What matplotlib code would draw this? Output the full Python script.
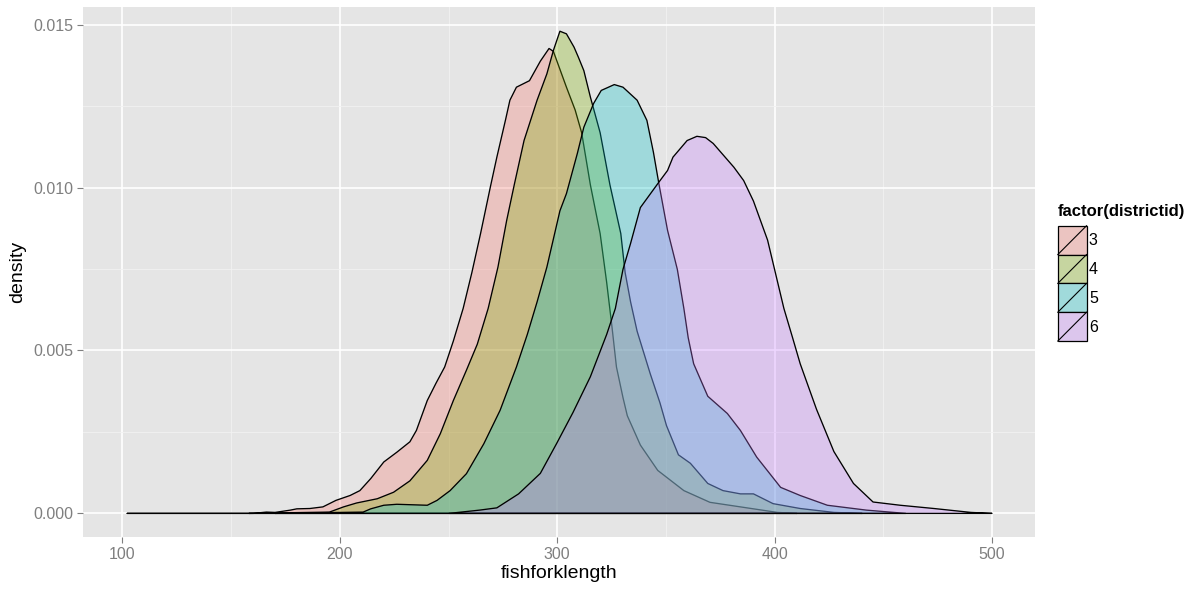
import numpy as np
import matplotlib
matplotlib.use("Agg")
import matplotlib.pyplot as plt
from matplotlib.colors import to_rgba
from matplotlib.patches import Patch, Rectangle
from matplotlib.lines import Line2D
from matplotlib.legend_handler import HandlerBase
from matplotlib.ticker import MultipleLocator

plt.rcParams['font.family'] = ['Liberation Sans', 'DejaVu Sans']

# ---------------------------
# 데이터 (그림에서 읽은 밀도 곡선)
# ---------------------------
groups = ["3", "4", "5", "6"]
colors = ["#F8766D", "#7CAE00", "#00BFC4", "#C77CFF"]

x3 = [102, 160, 166, 170, 177, 180, 186, 192, 198, 204.5, 209, 214, 220, 226, 232, 235,
      240, 244, 248, 252, 256.5, 260.5, 264.5, 269, 272, 276, 278, 281, 287, 292, 296,
      298, 304, 308, 311, 315, 319.5, 322.5, 325, 327, 330, 332, 338, 346, 358, 370,
      389, 401, 410]
y3 = [0, 0, 0.00004, 0.00003, 0.0001, 0.00014, 0.00015, 0.0002, 0.0004, 0.00055, 0.0007,
      0.00107, 0.00158, 0.00188, 0.0022, 0.00255, 0.00347, 0.0040, 0.0045, 0.0053, 0.0063,
      0.0074, 0.0086, 0.01003, 0.01095, 0.0121, 0.0127, 0.0131, 0.0133, 0.0139, 0.01429,
      0.0142, 0.0131, 0.0124, 0.0117, 0.0101, 0.0086, 0.0071, 0.0057, 0.0045, 0.00356,
      0.0030, 0.0021, 0.00132, 0.0007, 0.00034, 0.00015, 0.00003, 0]

x4 = [158, 195, 201.5, 207.5, 217, 224.5, 232, 240, 246, 252, 258, 263, 268, 272.5, 276.5,
      280, 284.5, 290.5, 295, 298, 301, 304, 307.5, 309.5, 312, 315, 319.5, 324, 329, 331,
      333.5, 336.5, 342.5, 347, 350, 355.5, 361, 369, 376, 384, 390, 399, 411.5, 427, 440]
y4 = [0, 0.00004, 0.0002, 0.00032, 0.00045, 0.00065, 0.001, 0.00163, 0.00245, 0.00347,
      0.0044, 0.0052, 0.0063, 0.00757, 0.009, 0.0101, 0.01146, 0.0127, 0.01351, 0.01423,
      0.01482, 0.01474, 0.01433, 0.01402, 0.01361, 0.0128, 0.0117, 0.0101, 0.0086, 0.0074,
      0.0065, 0.0056, 0.0043, 0.0034, 0.0027, 0.0018, 0.00154, 0.00092, 0.0007, 0.0006,
      0.0006, 0.0003, 0.00015, 0.00003, 0]

x5 = [170, 210.5, 214, 220, 226, 240, 244.5, 250.5, 258, 266, 273.5, 281, 286, 290.5, 295,
      301, 304, 309, 312, 316.5, 320, 326, 330, 336.5, 341, 344, 346.5, 350.5, 355, 358,
      360, 362.5, 369, 378, 384, 391.5, 402.5, 411.5, 424, 442, 460]
y5 = [0, 0.00004, 0.00014, 0.00025, 0.00028, 0.00025, 0.0004, 0.0007, 0.00122, 0.00214,
      0.00317, 0.0045, 0.0055, 0.0065, 0.00757, 0.0093, 0.00983, 0.01106, 0.01187, 0.0126,
      0.0130, 0.01318, 0.0131, 0.0127, 0.01208, 0.0111, 0.01014, 0.0087, 0.0075, 0.0063,
      0.0054, 0.0046, 0.0036, 0.00307, 0.00255, 0.00173, 0.0008, 0.00055, 0.00025, 0.0001, 0]

x6 = [250, 264, 272, 282, 292, 299.5, 307, 315, 322.5, 326.5, 330, 333.5, 338, 346.5, 350.5,
      353, 359.5, 364, 368, 371.5, 381, 385.5, 390, 396.5, 399, 404, 408, 411.5, 419, 427,
      436, 445, 457.5, 473, 490, 499.7]
y6 = [0, 0.0001, 0.00017, 0.0006, 0.00123, 0.00215, 0.0031, 0.0042, 0.0055, 0.0063, 0.0075,
      0.0083, 0.0094, 0.01018, 0.01054, 0.01095, 0.01146, 0.01159, 0.01155, 0.01137, 0.01064,
      0.01023, 0.0096, 0.0084, 0.0077, 0.0063, 0.0054, 0.0046, 0.0032, 0.0019, 0.00092,
      0.00035, 0.00025, 0.00015, 0.00003, 0]

xs = [x3, x4, x5, x6]
ys = [y3, y4, y5, y6]

x_ticks = [100, 200, 300, 400, 500]
y_ticks = [0.000, 0.005, 0.010, 0.015]

# ---------------------------
# 그림 설정 (ggplot2 theme_grey 스타일)
# ---------------------------
fig = plt.figure(figsize=(11.94, 5.96), dpi=100)
ax = fig.add_axes([0.0699, 0.099, 0.8666 - 0.0699, 0.9889 - 0.099])
ax.set_facecolor("#E5E5E5")
for s in ax.spines.values():
    s.set_visible(False)

alpha = 0.3
for xv, yv, c in zip(xs, ys, colors):
    ax.fill_between(xv, yv, 0, facecolor=to_rgba(c, alpha), edgecolor="black",
                    linewidth=0.95, zorder=3)

xmin = min(min(v) for v in xs)
xmax = max(max(v) for v in xs)
ymax = max(max(v) for v in ys)
ax.set_xlim(xmin - 0.05 * (xmax - xmin), xmax + 0.05 * (xmax - xmin))
ax.set_ylim(-0.05 * ymax, ymax * 1.05)

ax.set_xticks(x_ticks)
ax.set_yticks(y_ticks)
ax.set_yticklabels(["%.3f" % v for v in y_ticks])
ax.xaxis.set_minor_locator(MultipleLocator(50))
ax.yaxis.set_minor_locator(MultipleLocator(0.0025))
ax.grid(which="major", color="white", linewidth=1.2, zorder=0)
ax.grid(which="minor", color="#F2F2F2", linewidth=0.6, zorder=0)
ax.set_axisbelow(True)
ax.tick_params(which="major", colors="#7F7F7F", labelsize=11.5, length=4.5, width=0.8, pad=3)
ax.tick_params(which="minor", length=0)

ax.set_xlabel("fishforklength", fontsize=14, labelpad=2)
ax.set_ylabel("density", fontsize=14, labelpad=5)

# ---------------------------
# 범례 (사선이 들어간 키)
# ---------------------------
class KeyHandler(HandlerBase):
    def create_artists(self, legend, orig_handle, xdescent, ydescent, width, height,
                       fontsize, trans):
        r = Rectangle((-xdescent, -ydescent), width, height,
                      facecolor=orig_handle.get_facecolor(), edgecolor="black",
                      linewidth=0.9, transform=trans)
        l = Line2D([-xdescent, -xdescent + width], [-ydescent, -ydescent + height],
                   color="black", linewidth=0.8, transform=trans)
        return [r, l]

bg = np.array(to_rgba("#E5E5E5")[:3])
handles = []
for c in colors:
    mix = bg * (1 - alpha) + np.array(to_rgba(c)[:3]) * alpha
    handles.append(Patch(facecolor=mix))

leg = fig.legend(handles, groups, title="factor(districtid)",
                 loc="upper left", bbox_to_anchor=(1053 / 1194, 1 - 199 / 596),
                 frameon=False, fontsize=11.5, title_fontsize=12,
                 handler_map={Patch: KeyHandler()},
                 handlelength=1.8, handleheight=2.4, labelspacing=0.0,
                 handletextpad=0.15, borderaxespad=0, borderpad=0.3)
leg.get_title().set_fontweight("bold")
leg._legend_box.align = "left"
leg._legend_box.sep = 5

fig.savefig("out.png", dpi=100)
